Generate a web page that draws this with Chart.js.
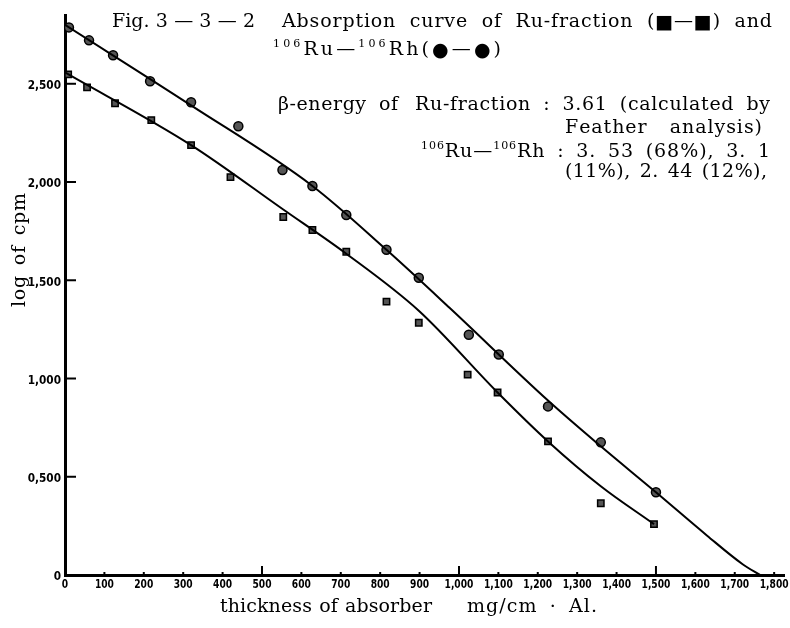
<!DOCTYPE html>
<html>
<head>
<meta charset="utf-8">
<script src="https://cdn.jsdelivr.net/npm/chart.js@4/dist/chart.umd.min.js"></script>
<style>
  html, body { margin: 0; padding: 0; background: #fff; }
  #wrap { width: 790px; height: 628px; }
</style>
</head>
<body>
<div id="wrap"><canvas id="chart" width="790" height="628"></canvas></div>
<script>
// measured points (thickness mg/cm2 Al, log cpm)
const circlesX = [10, 61, 122, 216, 320, 440, 552, 628, 714, 816, 898, 1025, 1101, 1226, 1360, 1500];
const circlesY = [2.787, 2.721, 2.645, 2.513, 2.406, 2.284, 2.061, 1.980, 1.832, 1.655, 1.513, 1.223, 1.122, 0.858, 0.675, 0.421];
const squaresX = [8, 56, 127, 219, 320, 420, 554, 628, 714, 816, 898, 1022, 1098, 1226, 1360, 1495];
const squaresY = [2.548, 2.482, 2.401, 2.315, 2.188, 2.025, 1.822, 1.756, 1.645, 1.391, 1.284, 1.020, 0.929, 0.680, 0.365, 0.259];

// hand drawn curves
const upperCurveX = [0, 320, 628, 816, 976, 1226, 1360, 1500, 1630, 1720, 1765];
const upperCurveY = [2.80, 2.39, 1.98, 1.655, 1.36, 0.888, 0.655, 0.421, 0.20, 0.055, 0];
const lowerCurveX = [0, 320, 554, 714, 898, 1098, 1226, 1360, 1495];
const lowerCurveY = [2.558, 2.188, 1.86, 1.635, 1.345, 0.929, 0.680, 0.452, 0.259];

const xTicks = [0, 100, 200, 300, 400, 500, 600, 700, 800, 900, 1000, 1100, 1200, 1300, 1400, 1500, 1600, 1700, 1800];
const xTickLabels = ['0', '100', '200', '300', '400', '500', '600', '700', '800', '900', '1,000', '1,100', '1,200', '1,300', '1,400', '1,500', '1,600', '1,700', '1,800'];
const yTicks = [0, 0.5, 1.0, 1.5, 2.0, 2.5];
const yTickLabels = ['0', '0,500', '1,000', '1,500', '2,000', '2,500'];

const pts = (xs, ys) => xs.map((x, i) => ({ x: x, y: ys[i] }));

const serif = '"DejaVu Serif", "Liberation Serif", serif';
const narrow = '"Liberation Sans Narrow", "DejaVu Sans Condensed", "Liberation Sans", sans-serif';

function runFont(r) {
  if (r.sup) return '11px ' + serif;
  if (r.big) return '19px "DejaVu Sans", sans-serif';
  return '19px ' + serif;
}

// draw a line of text char by char, stretched to a given width (partly at the spaces)
function spread(ctx, runs, x, y, width) {
  let natural = 0, chars = 0, spaces = 0;
  runs.forEach(r => {
    ctx.font = runFont(r);
    for (const ch of r.t) {
      natural += ctx.measureText(ch).width;
      chars++;
      if (ch === ' ') spaces++;
    }
  });
  const extra = width - natural;
  const perSpace = spaces ? extra * 0.5 / spaces : 0;
  const perChar = (chars > 1) ? extra * (spaces ? 0.5 : 1) / (chars - 1) : 0;
  let cx = x;
  runs.forEach(r => {
    ctx.font = runFont(r);
    for (const ch of r.t) {
      ctx.fillText(ch, cx, r.sup ? y - 8 : (r.big ? y + 1 : y));
      cx += ctx.measureText(ch).width + perChar + (ch === ' ' ? perSpace : 0);
    }
  });
}

const decor = {
  id: 'decor',
  afterDraw(chart) {
    const ctx = chart.ctx;
    const xs = chart.scales.x, ys = chart.scales.y;
    const area = chart.chartArea;
    ctx.save();
    ctx.fillStyle = '#000';
    ctx.strokeStyle = '#000';

    // inward tick marks
    ctx.lineWidth = 2;
    yTicks.forEach(v => {
      if (v === 0) return;
      const py = ys.getPixelForValue(v);
      ctx.beginPath(); ctx.moveTo(area.left, py); ctx.lineTo(area.left + 11, py); ctx.stroke();
    });
    xTicks.forEach(v => {
      if (v === 0) return;
      const px = xs.getPixelForValue(v);
      const len = v % 500 === 0 ? 9 : 3;
      ctx.beginPath(); ctx.moveTo(px, area.bottom); ctx.lineTo(px, area.bottom - len); ctx.stroke();
    });

    // tick labels, condensed
    ctx.font = 'bold 13px ' + narrow;
    ctx.textBaseline = 'middle';
    xTicks.forEach((v, i) => {
      const px = xs.getPixelForValue(v);
      ctx.save();
      ctx.translate(px, area.bottom + 10);
      ctx.scale(0.78, 1);
      ctx.textAlign = 'center';
      ctx.fillText(xTickLabels[i], 0, 0);
      ctx.restore();
    });
    yTicks.forEach((v, i) => {
      const py = ys.getPixelForValue(v);
      ctx.save();
      ctx.translate(area.left - 4, py + 2);
      ctx.scale(0.9, 1);
      ctx.textAlign = 'right';
      ctx.fillText(yTickLabels[i], 0, 0);
      ctx.restore();
    });

    // axis titles
    ctx.textBaseline = 'alphabetic';
    ctx.textAlign = 'left';
    ctx.save();
    ctx.translate(25, 250);
    ctx.rotate(-Math.PI / 2);
    spread(ctx, [{ t: 'log of cpm' }], -57, 0, 114);
    ctx.restore();
    spread(ctx, [{ t: 'thickness of absorber' }], 220, 612, 212);
    spread(ctx, [{ t: 'mg/cm · Al.' }], 467, 612, 130);

    // figure caption and notes
    spread(ctx, [{ t: 'Fig. 3 — 3 — 2' }], 112, 27, 143);
    spread(ctx, [{ t: 'Absorption curve of Ru-fraction (' }, { t: '■', big: true }, { t: '—' }, { t: '■', big: true }, { t: ') and' }], 282, 27, 490);
    spread(ctx, [{ t: '106', sup: true }, { t: 'Ru—' }, { t: '106', sup: true }, { t: 'Rh(' }, { t: '●', big: true }, { t: '—' }, { t: '●', big: true }, { t: ')' }], 273, 55, 228);
    spread(ctx, [{ t: 'β-energy of' }], 278, 110, 120);
    spread(ctx, [{ t: 'Ru-fraction : 3.61 (calculated by' }], 415, 110, 355);
    spread(ctx, [{ t: 'Feather analysis)' }], 565, 133, 197);
    spread(ctx, [{ t: '106', sup: true }, { t: 'Ru—' }, { t: '106', sup: true }, { t: 'Rh : 3. 53 (68%), 3. 1' }], 421, 157, 349);
    spread(ctx, [{ t: '(11%), 2. 44 (12%),' }], 565, 177, 202);
    ctx.restore();
  }
};

new Chart(document.getElementById('chart'), {
  type: 'scatter',
  data: {
    datasets: [
      {
        label: 'Ru-fraction curve',
        data: pts(lowerCurveX, lowerCurveY),
        showLine: true,
        borderColor: '#000',
        borderWidth: 2,
        pointRadius: 0,
        cubicInterpolationMode: 'monotone'
      },
      {
        label: '106Ru-106Rh curve',
        data: pts(upperCurveX, upperCurveY),
        showLine: true,
        borderColor: '#000',
        borderWidth: 2,
        pointRadius: 0,
        cubicInterpolationMode: 'monotone'
      },
      {
        label: 'Ru-fraction',
        data: pts(squaresX, squaresY),
        pointStyle: 'rect',
        pointRadius: 4.5,
        backgroundColor: '#555',
        borderColor: '#000',
        borderWidth: 1.5
      },
      {
        label: '106Ru-106Rh',
        data: pts(circlesX, circlesY),
        pointStyle: 'circle',
        pointRadius: 4.5,
        backgroundColor: '#555',
        borderColor: '#000',
        borderWidth: 1.5
      }
    ]
  },
  options: {
    responsive: false,
    animation: false,
    layout: {
      padding: { left: 0, right: 6, top: 15, bottom: 0 }
    },
    plugins: {
      legend: { display: false },
      tooltip: { enabled: false }
    },
    scales: {
      x: {
        type: 'linear',
        min: 0,
        max: 1825,
        afterBuildTicks: (scale) => { scale.ticks = xTicks.map(v => ({ value: v })); },
        afterFit: (scale) => { scale.height = 53; },
        ticks: { display: false },
        grid: { display: false },
        border: { display: true, color: '#000', width: 3 }
      },
      y: {
        type: 'linear',
        min: 0,
        max: 2.85,
        afterBuildTicks: (scale) => { scale.ticks = yTicks.map(v => ({ value: v })); },
        afterFit: (scale) => { scale.width = 65; },
        ticks: { display: false },
        grid: { display: false },
        border: { display: true, color: '#000', width: 3 }
      }
    }
  },
  plugins: [decor]
});
</script>
</body>
</html>
